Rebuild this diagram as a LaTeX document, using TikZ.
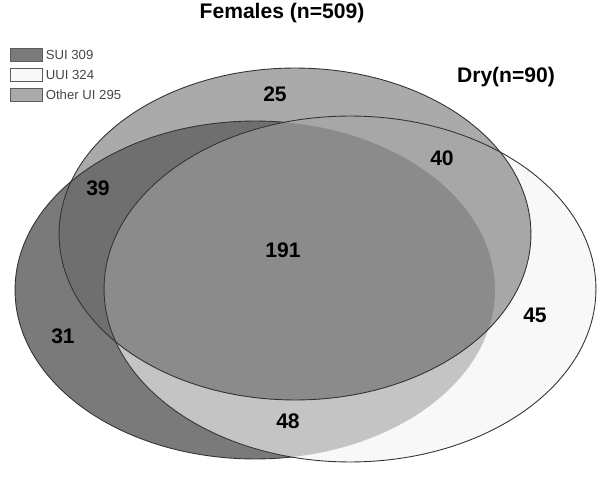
\documentclass[tikz,border=0pt]{standalone}
\usepackage{fontspec}
\setmainfont{Liberation Sans}
\usetikzlibrary{positioning}
\definecolor{VennInk}{HTML}{333333}
\definecolor{VennSui}{HTML}{7A7A7A}
\definecolor{VennUui}{HTML}{F8F8F8}
\definecolor{VennOther}{HTML}{AAAAAA}
\definecolor{VennSuiUui}{HTML}{C4C4C4}
\definecolor{VennSuiOther}{HTML}{6F6F6F}
\definecolor{VennUuiOther}{HTML}{A7A7A7}
\definecolor{VennAll}{HTML}{8B8B8B}
% ellipse outlines in pixel units
\newcommand\suiset{(255,290) ellipse [x radius=4.8cm,y radius=3.38cm]}
\newcommand\uuiset{(350,289) ellipse [x radius=4.92cm,y radius=3.46cm]}
\newcommand\otherset{(295,234) ellipse [x radius=4.72cm,y radius=3.32cm]}

\begin{document}
\begin{tikzpicture}[x=0.02cm,y=-0.02cm]
  \tikzset{
    outline/.style={draw=VennInk,line width=.5pt},
    count/.style={font=\bfseries\fontsize{12}{14}\selectfont},
    heading/.style={font=\bfseries\fontsize{12}{14}\selectfont},
    legbox/.style={draw=VennInk!80,line width=.5pt,minimum width=.64cm,minimum height=.26cm,inner sep=0pt},
    legtext/.style={font=\fontsize{7.5}{9}\selectfont,text=VennInk!90,inner sep=0pt}
  }
  \useasboundingbox[fill=white] (0,0) rectangle (600,477);
  % single sets
  \fill[VennSui] \suiset;
  \fill[VennUui] \uuiset;
  \fill[VennOther] \otherset;
  % pairwise overlaps
  \begin{scope}
    \clip \suiset;
    \fill[VennSuiUui] \uuiset;
  \end{scope}
  \begin{scope}
    \clip \suiset;
    \fill[VennSuiOther] \otherset;
  \end{scope}
  \begin{scope}
    \clip \otherset;
    \fill[VennUuiOther] \uuiset;
  \end{scope}
  % all three
  \begin{scope}
    \clip \suiset;
    \clip \otherset;
    \fill[VennAll] \uuiset;
  \end{scope}
  % outlines
  \begin{scope}[even odd rule]
    \clip (0,0) rectangle (600,477) \uuiset;
    \draw[outline] \suiset;
  \end{scope}
  \draw[outline] \uuiset;
  \draw[outline] \otherset;

  \node[heading] (title) at (282,13) {Females (n=509)};
  \node[heading] (dry) at (506,77) {Dry(n=90)};

  \node[count] (n25) at (275,94) {25};
  \node[count] (n40) at (442,158) {40};
  \node[count] (n39) at (98,188) {39};
  \node[count] (n191) at (283,250) {191};
  \node[count] (n31) at (63,336) {31};
  \node[count] (n45) at (535,315) {45};
  \node[count] (n48) at (288,421) {48};

  \node[legbox,fill=VennSui] (suibox) at (26,55) {};
  \node[legbox,fill=VennUui,below=1.2mm of suibox] (uuibox) {};
  \node[legbox,fill=VennOther,below=1.2mm of uuibox] (otherbox) {};
  \node[legtext,right=.6mm of suibox] (suitext) {SUI 309};
  \node[legtext,right=.6mm of uuibox] (uuitext) {UUI 324};
  \node[legtext,right=.6mm of otherbox] (othertext) {Other UI 295};
\end{tikzpicture}
\end{document}
